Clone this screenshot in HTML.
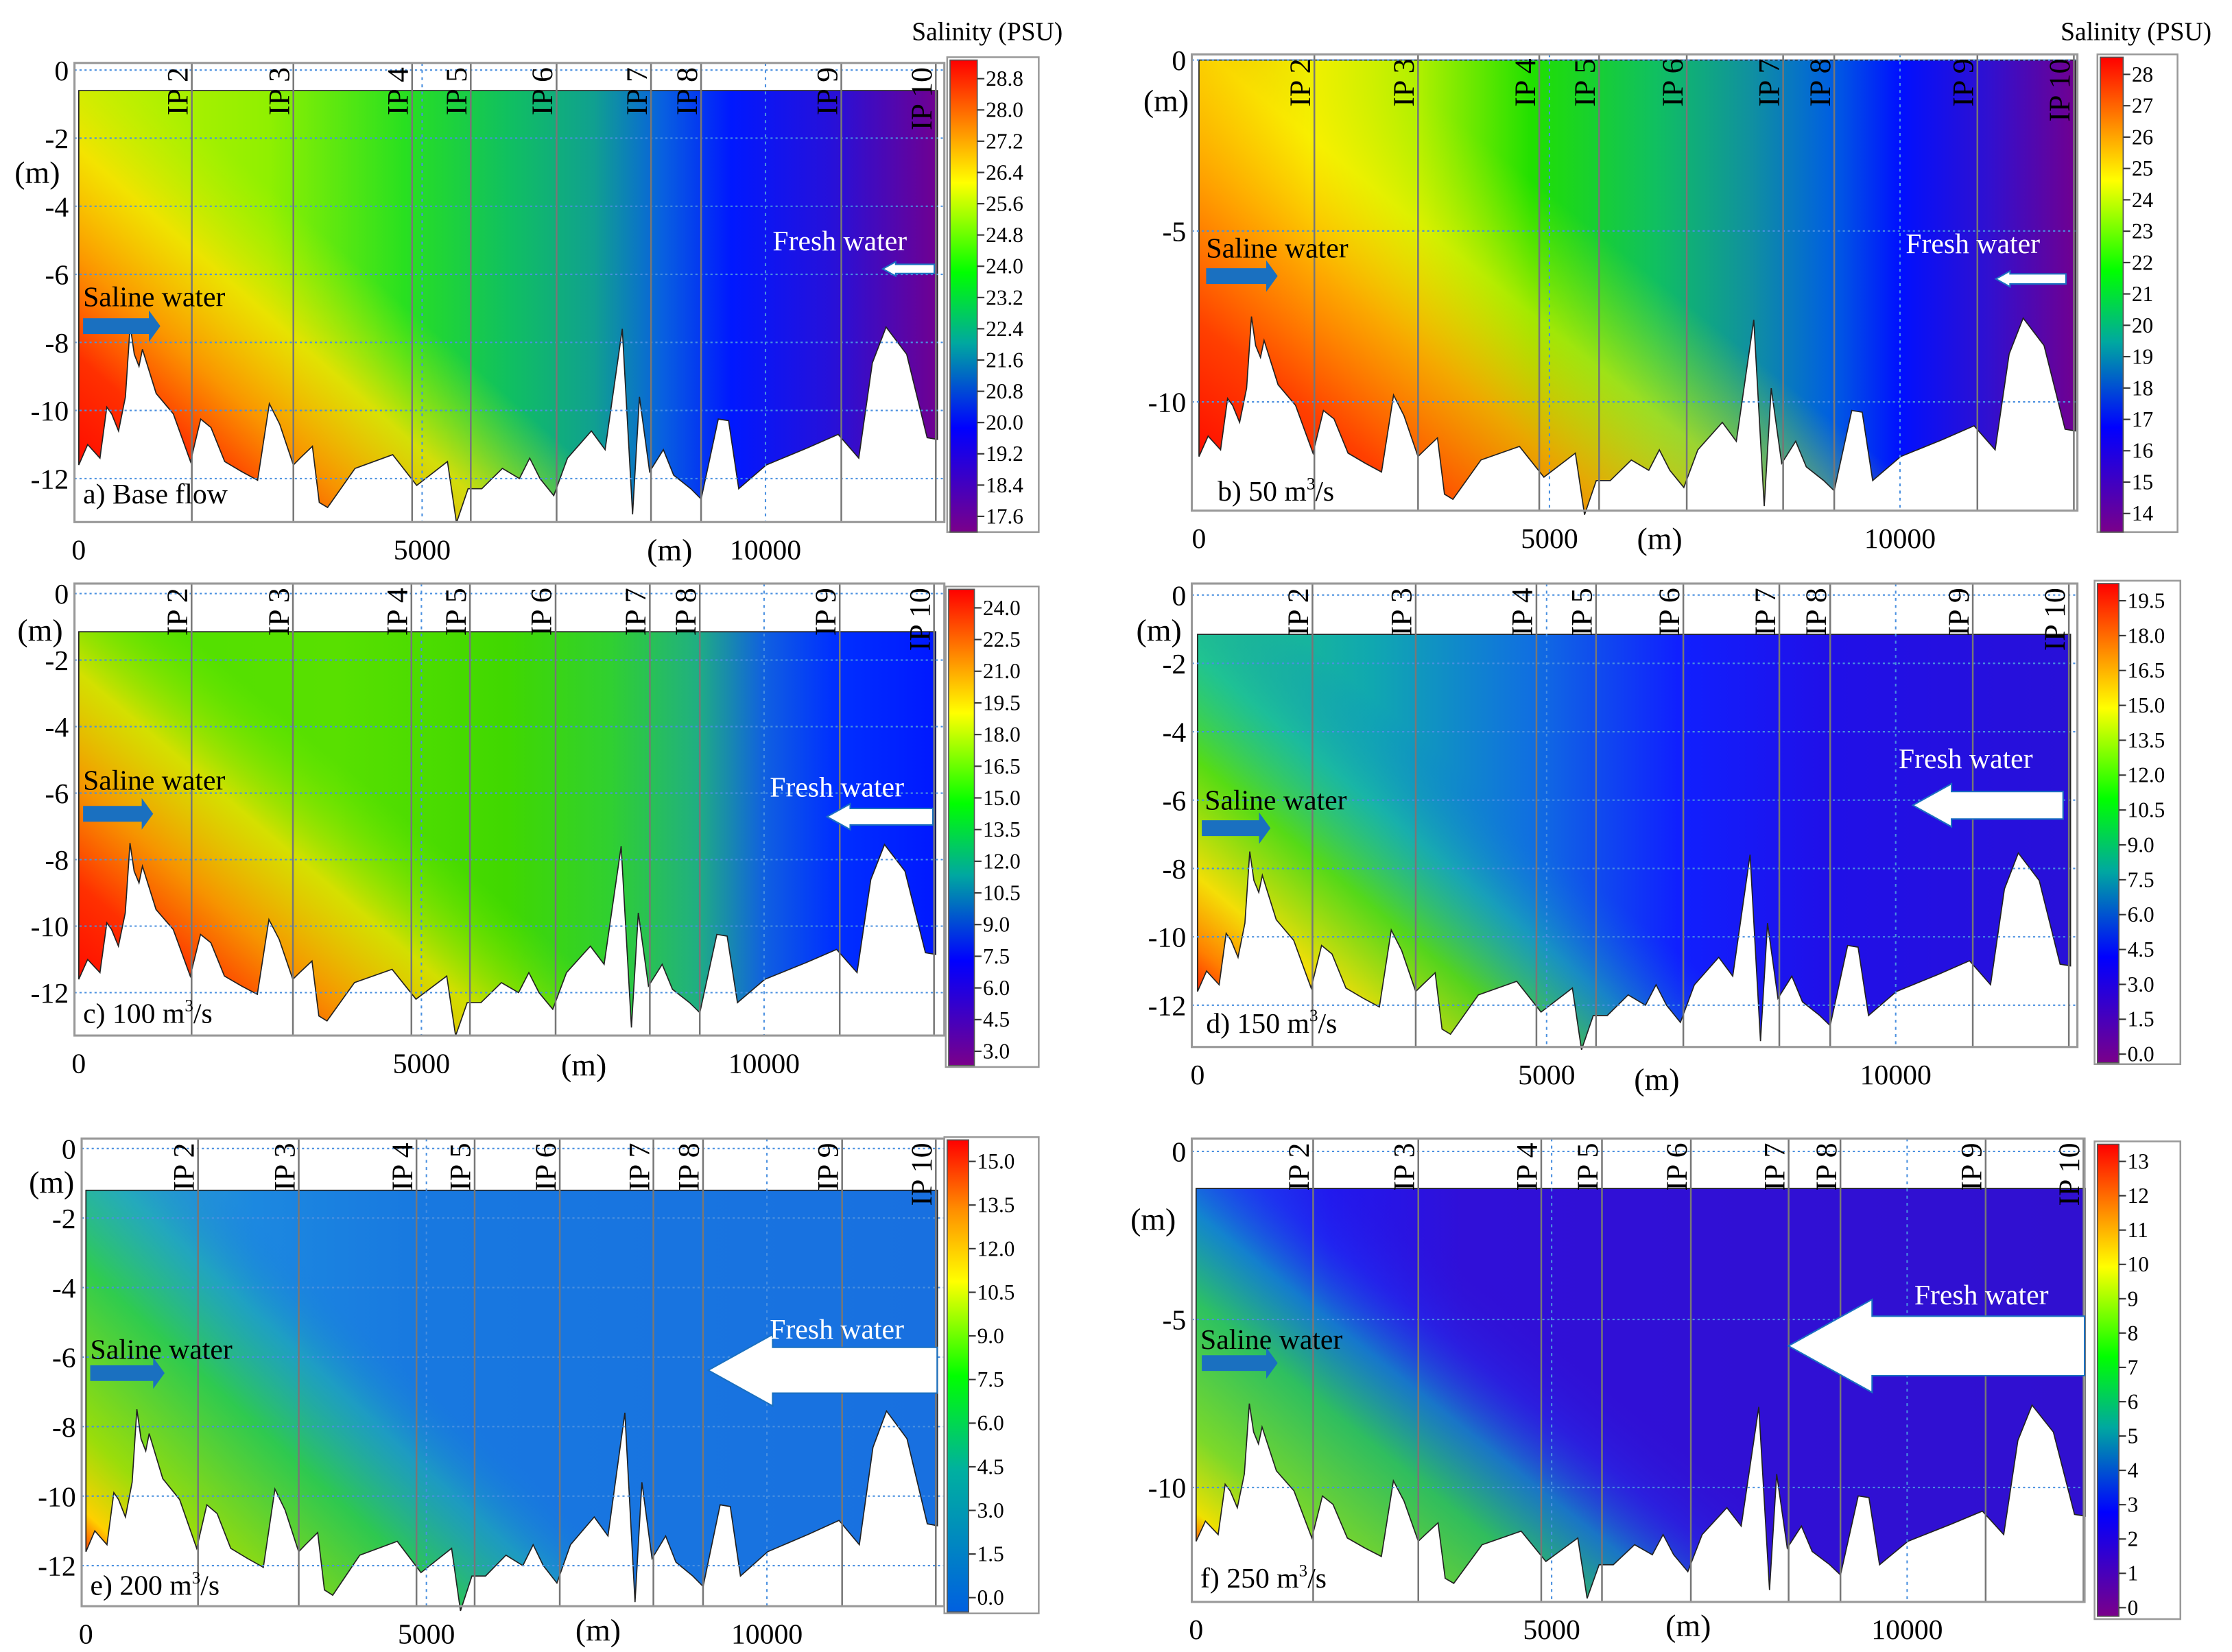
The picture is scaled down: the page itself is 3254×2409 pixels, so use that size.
<!DOCTYPE html>
<html><head><meta charset="utf-8">
<style>
html,body{margin:0;padding:0;background:#fff;}
svg{display:block;font-family:"Liberation Serif",serif;}
</style></head>
<body>
<svg id="fig" width="3254" height="2409" viewBox="0 0 1560 1155" xmlns="http://www.w3.org/2000/svg">
<defs id="defs"></defs>
</svg>
<script>
// Bathymetry profile (distance m, bed elevation m)
const bathyX = [0,130,309,409,479,579,679,748,808,878,928,1128,1377,1627,1776,1926,2126,2375,2605,2775,2924,3124,3223,3403,3503,3623,4022,4571,4920,5369,5499,5668,5868,6168,6417,6567,6717,6916,7116,7465,7665,7914,8064,8164,8313,8513,8663,8912,9062,9312,9462,9611,10010,10609,11058,11358,11557,11757,12056,12355,12505];
const bathyZ = [-11.6,-11.0,-11.4,-9.9,-10.1,-10.6,-9.6,-7.5,-8.35,-8.7,-8.2,-9.5,-10.1,-11.5,-10.25,-10.5,-11.5,-11.8,-12.05,-9.8,-10.4,-11.6,-11.4,-11.05,-12.7,-12.85,-11.7,-11.3,-12.2,-11.5,-13.3,-12.3,-12.3,-11.7,-12.0,-11.4,-12.0,-12.5,-11.4,-10.6,-11.15,-7.6,-13.05,-9.6,-11.8,-11.15,-11.9,-12.3,-12.6,-10.25,-10.3,-12.3,-11.6,-11.1,-10.7,-11.4,-8.6,-7.55,-8.35,-10.8,-10.85];
// Interest point section locations (m)
const ipNames = ["IP 2","IP 3","IP 4","IP 5","IP 6","IP 7","IP 8","IP 9","IP 10"];
const ipX = [1646,3125,4854,5708,6958,8333,9062,11104,12480];
// Colorbar tick labels per panel
const ticksA = ["28.8","28.0","27.2","26.4","25.6","24.8","24.0","23.2","22.4","21.6","20.8","20.0","19.2","18.4","17.6"];
const ticksB = ["28","27","26","25","24","23","22","21","20","19","18","17","16","15","14"];
const ticksC = ["24.0","22.5","21.0","19.5","18.0","16.5","15.0","13.5","12.0","10.5","9.0","7.5","6.0","4.5","3.0"];
const ticksD = ["19.5","18.0","16.5","15.0","13.5","12.0","10.5","9.0","7.5","6.0","4.5","3.0","1.5","0.0"];
const ticksE = ["15.0","13.5","12.0","10.5","9.0","7.5","6.0","4.5","3.0","1.5","0.0"];
const ticksF = ["13","12","11","10","9","8","7","6","5","4","3","2","1","0"];
const yTicksFine = [0,-2,-4,-6,-8,-10,-12];
const yTicksCoarse = [0,-5,-10];
const xTicks = [0,5000,10000];
// Water surface elevation per panel (m)
const surfA = -0.6, surfB = 0, surfC = -1.15, surfD = -1.15, surfE = -1.2, surfF = -1.1;

const NS="http://www.w3.org/2000/svg";
const svg=document.getElementById('fig');
const defs=document.getElementById('defs');
function mk(tag,attrs,parent){const e=document.createElementNS(NS,tag);for(const k in attrs)e.setAttribute(k,attrs[k]);(parent||svg).appendChild(e);return e;}

const jet=[[0,"#ff0000"],[0.13,"#ff8000"],[0.26,"#ffff00"],[0.45,"#00ff00"],[0.6,"#00a8a0"],[0.78,"#0000ff"],[1,"#7a008a"]];
const jetE=[[0,"#ff0000"],[0.15,"#ff9000"],[0.3,"#ffff00"],[0.5,"#00ff00"],[0.7,"#00b0a0"],[1,"#0060e0"]];

const panels=[
 {id:"a",label:"a) Base flow",sub:"",frame:[52,44,660,365],x0:55,kx:0.048,y0:49,ky:23.8,surf:surfA,yt:yTicksFine,ticks:ticksA,cb:[664,42,19,330,55,361],cbf:[662,40,726,372],cmap:jet,
  hz:[[0,"#c8f000"],[0.22,"#90f000"],[0.38,"#28e020"],[0.5,"#10c060"],[0.6,"#10a090"],[0.68,"#0860e0"],[0.76,"#0018ff"],[0.88,"#2810d8"],[1,"#700090"]],
  wedge:[168,-191],ws:[[0,"#ff0800",1],[0.25,"#ff3000",1],[0.45,"#ff9000",0.95],[0.68,"#ffe000",0.8],[0.95,"#c0f000",0]],
  saline:[58,214,58,228,54,11],fresh:[540,175,617,188,36,10],xl:[468,392],yl:[26,128]},
 {id:"b",label:"b) 50 m",sub:"3",tail:"/s",frame:[833,38,1452,357],x0:838,kx:0.049,y0:42,ky:23.9,surf:surfB,yt:yTicksCoarse,ticks:ticksB,cb:[1468,40,16,332,52,359],cbf:[1466,38,1522,372],cmap:jet,
  hz:[[0,"#ffa000"],[0.13,"#f8f000"],[0.25,"#b0f000"],[0.38,"#20e000"],[0.52,"#10c060"],[0.63,"#1090a0"],[0.72,"#0060e0"],[0.8,"#0010ff"],[0.9,"#3010d0"],[1,"#700090"]],
  wedge:[200,-250],ws:[[0,"#ff0800",1],[0.25,"#ff4000",1],[0.5,"#ffa000",0.9],[0.72,"#f8f000",0.6],[0.95,"#c0f000",0]],
  saline:[843,180,843,193,50,11],fresh:[1332,177,1395,195,49,11],xl:[1160,384],yl:[815,78]},
 {id:"c",label:"c) 100 m",sub:"3",tail:"/s",frame:[52,408,660,724],x0:55,kx:0.0479,y0:415,ky:23.25,surf:surfC,yt:yTicksFine,ticks:ticksC,cb:[663,412,18,333,425,735],cbf:[661,410,726,746],cmap:jet,
  hz:[[0,"#50e000"],[0.3,"#58e000"],[0.5,"#40d800"],[0.62,"#30d030"],[0.72,"#20b080"],[0.8,"#1060e0"],[0.88,"#0030ff"],[1,"#0018ff"]],
  wedge:[170,-200],ws:[[0,"#ff0800",1],[0.22,"#ff3000",1],[0.42,"#ff9000",0.95],[0.65,"#ffe000",0.75],[0.92,"#80f000",0]],
  saline:[58,552,58,569,49,11],fresh:[538,557,578,571,74,18],xl:[408,752],yl:[28,448]},
 {id:"d",label:"d) 150 m",sub:"3",tail:"/s",frame:[833,408,1452,732],x0:837,kx:0.0488,y0:416,ky:23.9,surf:surfD,yt:yTicksFine,ticks:ticksD,cb:[1466,408,15,335,420,737],cbf:[1464,406,1524,744],cmap:jet,
  hz:[[0,"#20c880"],[0.2,"#10a8b0"],[0.38,"#1070e0"],[0.55,"#1020ff"],[0.72,"#2010e8"],[1,"#2810d8"]],
  wedge:[200,-240],ws:[[0,"#ff1000",1],[0.1,"#ff8000",1],[0.22,"#ffe000",0.95],[0.42,"#60e000",0.85],[0.6,"#20c0a0",0.5],[0.78,"#1070e0",0]],
  saline:[842,566,840,579,48,11],fresh:[1327,537,1337,563,105,30],xl:[1158,762],yl:[810,448]},
 {id:"e",label:"e) 200 m",sub:"3",tail:"/s",frame:[57,796,660,1123],x0:60,kx:0.0476,y0:803,ky:24.3,surf:surfE,yt:yTicksFine,ticks:ticksE,cb:[662,797,15,330,812,1117],cbf:[660,795,726,1128],cmap:jetE,
  hz:[[0,"#30a8c8"],[0.2,"#1c88e0"],[0.4,"#1878e0"],[1,"#1870e0"]],
  wedge:[230,-250],ws:[[0,"#ff1000",1],[0.08,"#ffd000",1],[0.2,"#a0e000",0.95],[0.45,"#30d040",0.9],[0.62,"#20b0b0",0.6],[0.76,"#1878e0",0]],
  saline:[63,950,63,960,52,11],fresh:[538,936,495,958,160,50],xl:[418,1147],yl:[36,834]},
 {id:"f",label:"f) 250 m",sub:"3",tail:"/s",frame:[833,796,1457,1120],x0:836,kx:0.0497,y0:805,ky:23.5,surf:surfF,yt:yTicksCoarse,ticks:ticksF,cb:[1466,800,15,330,812,1124],cbf:[1464,798,1524,1132],cmap:jet,
  hz:[[0,"#1848f0"],[0.15,"#2018f0"],[0.3,"#3010d8"],[1,"#3010d0"]],
  wedge:[205,-255],ws:[[0,"#ff2000",1],[0.07,"#f0e000",1],[0.2,"#80e020",0.95],[0.42,"#30d050",0.9],[0.57,"#10a0c0",0.7],[0.7,"#2040f0",0.3],[0.85,"#3010d0",0]],
  saline:[839,943,840,953,53,11],fresh:[1338,912,1250,941,207,65],xl:[1180,1144],yl:[806,860]}
];

function addGrad(id,x1,y1,x2,y2,stops){
  const g=mk('linearGradient',{id:id,gradientUnits:'userSpaceOnUse',x1:x1,y1:y1,x2:x2,y2:y2},defs);
  stops.forEach(s=>mk('stop',{offset:s[0],'stop-color':s[1],'stop-opacity':s.length>2?s[2]:1},g));
}
function txt(parent,x,y,s,attrs){const t=mk('text',Object.assign({x:x,y:y},attrs||{}),parent);t.textContent=s;return t;}

panels.forEach(p=>{
  const X=m=>p.x0+m*p.kx, Y=z=>p.y0-z*p.ky;
  const g=mk('g',{});
  
  
  const [fl,ft,fr,fb]=p.frame;
  const xEnd=bathyX[bathyX.length-1];
  let pts=[[X(0),Y(p.surf)],[X(xEnd),Y(p.surf)]];
  for(let i=bathyX.length-1;i>=0;i--) pts.push([X(bathyX[i]),Y(bathyZ[i])]);
  const d='M'+pts.map(q=>q[0].toFixed(1)+','+q[1].toFixed(1)).join('L')+'Z';
  addGrad('hz'+p.id,X(0),0,X(xEnd),0,p.hz);
  const bx=X(0), by=Y(-12);
  addGrad('wd'+p.id,bx,by,bx+p.wedge[0],by+p.wedge[1],p.ws);
  const w1=mk('path',{d:d,fill:'url(#hz'+p.id+')'},g);
  
  
  const w2=mk('path',{d:d,fill:'url(#wd'+p.id+')',stroke:'#222','stroke-width':0.8},g);
  
  
  p.yt.forEach(v=>{const l=mk('line',{x1:fl,x2:fr,y1:Y(v),y2:Y(v),stroke:'#4a90e0','stroke-width':1,'stroke-dasharray':'1.5,2'},g);
    });
  [5000,10000].forEach(v=>{const l=mk('line',{x1:X(v),x2:X(v),y1:ft,y2:fb,stroke:'#4a90e0','stroke-width':1,'stroke-dasharray':'2,3'},g);
    });
  ipX.forEach((v,i)=>{
    const l=mk('line',{x1:X(v),x2:X(v),y1:ft,y2:fb,stroke:'#777','stroke-width':1.2},g);
    
    const tx=X(v)-3, ty=ft+3;
    const t=txt(g,tx,ty,ipNames[i],{'font-size':21,'text-anchor':'end',transform:'rotate(-90 '+tx+' '+ty+')',fill:'#000'});
    
  });
  const fr_=mk('rect',{x:fl,y:ft,width:fr-fl,height:fb-ft,fill:'none',stroke:'#999','stroke-width':1.5},g);
  
  p.yt.forEach(v=>{const t=txt(g,fl-4,Y(v)+7,String(v),{'font-size':20,'text-anchor':'end'});
    });
  xTicks.forEach(v=>{const t=txt(g,X(v),fb+26,String(v),{'font-size':20,'text-anchor':'middle'});
    });
  const xl=txt(g,p.xl[0],p.xl[1],'(m)',{'font-size':22,'text-anchor':'middle'});
  
  const yl=txt(g,p.yl[0],p.yl[1],'(m)',{'font-size':22,'text-anchor':'middle'});
  
  const pl=txt(g,p.frame[0]+6+(p.id==='b'?12:0)+(p.id==='d'?4:0),p.id==='a'?352:p.id==='b'?350:p.id==='c'?715:p.id==='d'?722:p.id==='e'?1115:1110,p.label,{'font-size':20});
  if(p.sub){const ts=mk('tspan',{dy:-8,'font-size':12},pl);ts.textContent=p.sub;const tt=mk('tspan',{dy:8},pl);tt.textContent=p.tail;}
  
  const s=p.saline;
  const st=txt(g,s[0],s[1],'Saline water',{'font-size':20});
  
  const ah=s[5];
  const sa=mk('path',{d:`M${s[2]},${s[3]-ah/2}L${s[2]+s[4]-8},${s[3]-ah/2}L${s[2]+s[4]-8},${s[3]-ah}L${s[2]+s[4]},${s[3]}L${s[2]+s[4]-8},${s[3]+ah}L${s[2]+s[4]-8},${s[3]+ah/2}L${s[2]},${s[3]+ah/2}Z`,fill:'#1a70c0'},g);
  
  const f=p.fresh;
  const fh=f[5], hw=Math.min(f[4]*0.3,fh*0.9), bh=fh*0.32;
  const fa=mk('path',{d:`M${f[2]+f[4]},${f[3]-bh}L${f[2]+hw},${f[3]-bh}L${f[2]+hw},${f[3]-fh/2}L${f[2]},${f[3]}L${f[2]+hw},${f[3]+fh/2}L${f[2]+hw},${f[3]+bh}L${f[2]+f[4]},${f[3]+bh}Z`,fill:'#fff',stroke:'#1a70c0','stroke-width':1},g);
  
  const ft2=txt(g,f[0],f[1],'Fresh water',{'font-size':20,fill:'#fff'});
  
  const [cx,cy,cw,ch,t0,t1]=p.cb;
  addGrad('cb'+p.id,0,cy,0,cy+ch,p.cmap);
  const cf=mk('rect',{x:p.cbf[0],y:p.cbf[1],width:p.cbf[2]-p.cbf[0],height:p.cbf[3]-p.cbf[1],fill:'#fff',stroke:'#999','stroke-width':1.2},g);
  
  const cr=mk('rect',{x:cx,y:cy,width:cw,height:ch,fill:'url(#cb'+p.id+')',stroke:'#555','stroke-width':0.8},g);
  
  const n=p.ticks.length;
  p.ticks.forEach((v,i)=>{const yy=t0+(t1-t0)*i/(n-1);
    mk('line',{x1:cx+cw,x2:cx+cw+5,y1:yy,y2:yy,stroke:'#333','stroke-width':1},g);
    const t=txt(g,cx+cw+6,yy+5,v,{'font-size':15});
    });
});
const t1=txt(svg,690,28,'Salinity (PSU)',{'font-size':18,'text-anchor':'middle'});

const t2=txt(svg,1493,28,'Salinity (PSU)',{'font-size':18,'text-anchor':'middle'});

</script>
</body></html>
